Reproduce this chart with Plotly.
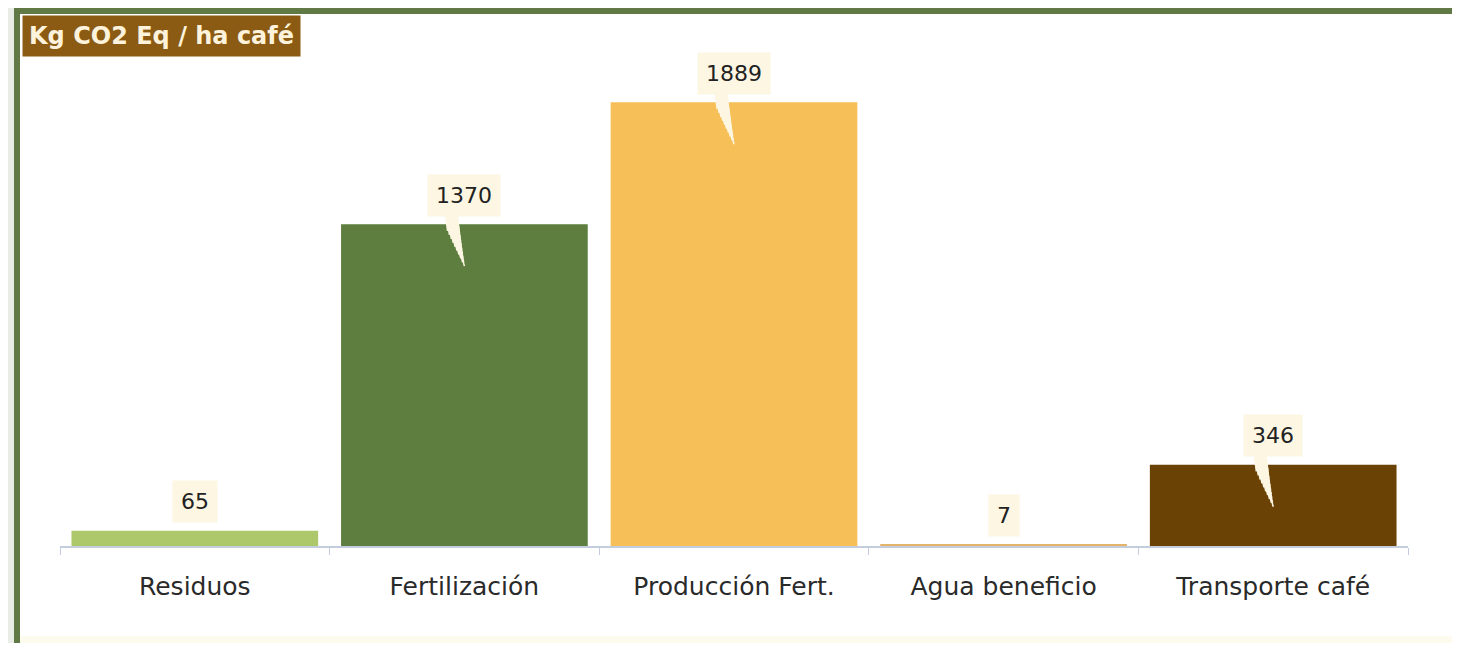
import plotly.graph_objects as go

categories = ["Residuos", "Fertilización", "Producción Fert.", "Agua beneficio", "Transporte café"]
values = [65, 1370, 1889, 7, 346]
bar_colors = ["#adc86b", "#5d7e3e", "#f6bf57", "#e3b46a", "#6a4206"]
title_text = "Kg CO2 Eq / ha café"

# page puts the figure 8px in from the top-left corner
OFF = 8
W, H = 1460 - 2 * OFF, 651 - 2 * OFF
L = 60 - OFF
T = 55 - OFF
R = W - (1408 - OFF)
B = H - (546 - OFF)
PW, PH = W - L - R, H - T - B
YMAX = 2090
CREAM = "#fcf6e2"
FONT = "DejaVu Sans"


def xp(px):
    return (px - OFF - L) / PW


def yp(py):
    return (H - B - (py - OFF)) / PH


fig = go.Figure()
fig.add_trace(go.Bar(
    x=categories, y=values, marker=dict(color=bar_colors, line=dict(width=0)),
    width=0.915, hoverinfo="skip",
))

shapes = [
    dict(type="rect", xref="paper", yref="paper", x0=xp(0), x1=xp(1470), y0=yp(660), y1=yp(0),
         fillcolor="#e9ede6", line=dict(width=0), layer="below"),
    dict(type="rect", xref="paper", yref="paper", x0=xp(14), x1=xp(1470), y0=yp(660), y1=yp(8),
         fillcolor="#ffffff", line=dict(width=0), layer="below"),
    dict(type="rect", xref="paper", yref="paper", x0=xp(20), x1=xp(1470), y0=yp(660), y1=yp(636),
         fillcolor="#fdfbee", line=dict(width=0), layer="below"),
    dict(type="rect", xref="paper", yref="paper", x0=xp(14), x1=xp(1470), y0=yp(14), y1=yp(8),
         fillcolor="#617a45", line=dict(width=0), layer="below"),
    dict(type="rect", xref="paper", yref="paper", x0=xp(14), x1=xp(20), y0=yp(660), y1=yp(8),
         fillcolor="#617a45", line=dict(width=0), layer="below"),
]

annotations = []
label_font = dict(family=FONT, size=22, color="#222222")
TEXT_ABOVE = 29   # px between bar top and label centre
TIP_BELOW = 42    # px the callout pointer reaches into the bar
LEAN = 13         # px the pointer's top sits left of the bar centre
START = 10        # px above the bar top where the pointer starts (under the label box)
for c, v in zip(categories, values):
    if v > 200:
        # tapered callout pointer built from stacked segments
        for d in range(6, TIP_BELOW + 1, 4):
            w = max(1.5, 15 * (1 - d / (TIP_BELOW + 4)))
            xs = -LEAN + LEAN * d / TIP_BELOW
            annotations.append(dict(
                x=c, y=v, xref="x", yref="y", text="", showarrow=True,
                arrowhead=0, arrowwidth=w, arrowcolor=CREAM,
                ax=-LEAN - xs, ay=-(d + START), xshift=xs, yshift=-d,
            ))
for c, v in zip(categories, values):
    annotations.append(dict(
        x=c, y=v, xref="x", yref="y", text=str(v), showarrow=False,
        yshift=TEXT_ABOVE, bgcolor=CREAM, borderpad=8, font=label_font,
    ))

annotations.append(dict(
    x=xp(22), y=yp(15), xref="paper", yref="paper", xanchor="left", yanchor="top",
    text="<b>" + title_text + "</b>", showarrow=False, bgcolor="#8b5a13",
    borderpad=6, font=dict(family=FONT, size=24, color="#fdf3dc"),
))

fig.update_layout(
    width=W, height=H,
    margin=dict(l=L, r=R, t=T, b=B, pad=0),
    paper_bgcolor="#ffffff", plot_bgcolor="rgba(0,0,0,0)",
    shapes=shapes, annotations=annotations, showlegend=False,
    bargap=0.085,
)
fig.update_xaxes(
    showline=True, linecolor="#c3cddd", linewidth=1.5, ticks="outside",
    tickson="boundaries", ticklen=7, tickcolor="#c3cddd", showgrid=False,
    tickfont=dict(family=FONT, size=25, color="#2a2a2a"),
    ticklabelstandoff=17,
)
fig.update_yaxes(range=[0, YMAX], visible=False, showgrid=False)

fig.write_html("out.html")
